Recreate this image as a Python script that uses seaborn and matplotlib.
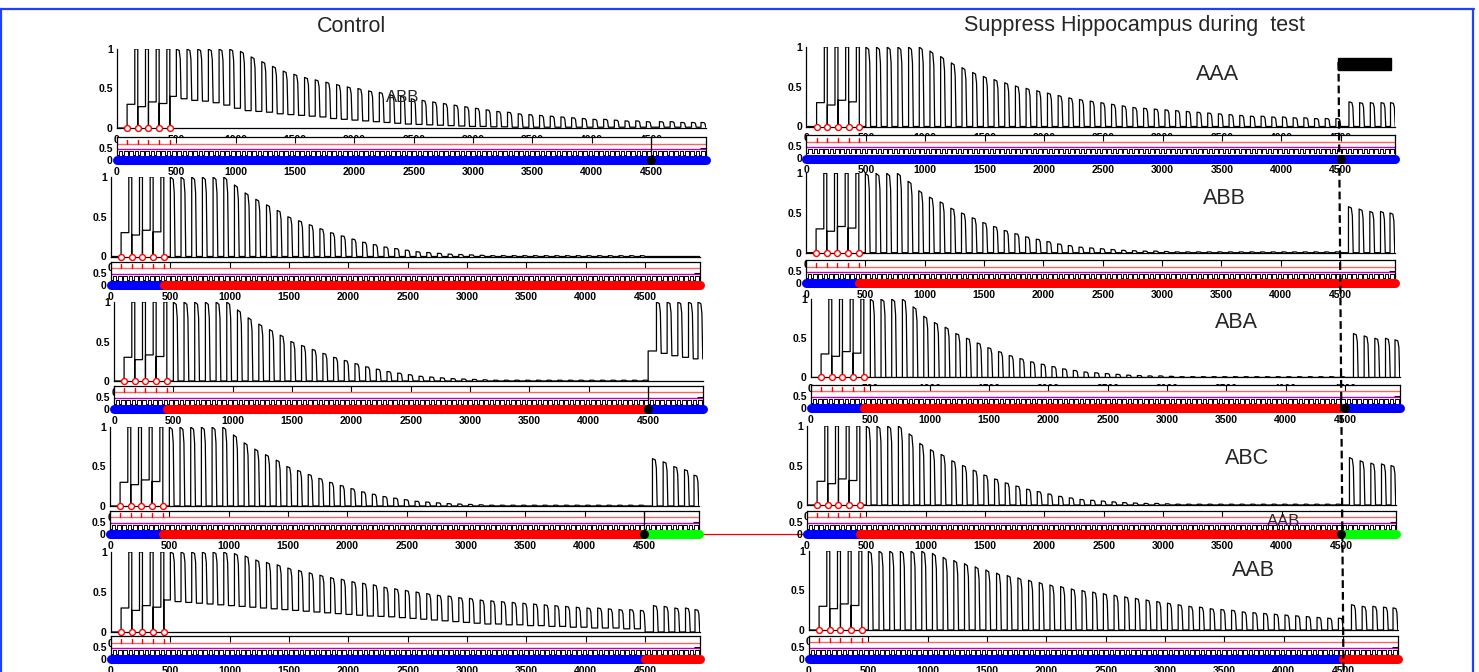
import numpy as np
import pandas as pd
import matplotlib
matplotlib.use("Agg")
import matplotlib.pyplot as plt
import seaborn as sns
from matplotlib.patches import Rectangle
from matplotlib.lines import Line2D

sns.set_style("white", {"axes.edgecolor": "black", "xtick.color": "black", "ytick.color": "black"})
plt.rcParams["font.family"] = ["Liberation Sans", "DejaVu Sans"]

W, H = 1479, 672
XMAX = 4960

# ---------------- data ----------------
x_ticks = [0, 500, 1000, 1500, 2000, 2500, 3000, 3500, 4000, 4500]
shock_times = [85, 175, 265, 355, 445]
acq_cs_onsets = [150, 240, 330, 420]
acq_cs_peaks = [1.0, 1.0, 1.0, 1.0]
acq_iti_levels = [0.30, 0.27, 0.33, 0.31]
ext_cs_onsets = [500, 590, 680, 770, 860, 950, 1040, 1130, 1220, 1310, 1400, 1490, 1580, 1670,
                 1760, 1850, 1940, 2030, 2120, 2210, 2300, 2390, 2480, 2570, 2660, 2750, 2840,
                 2930, 3020, 3110, 3200, 3290, 3380, 3470, 3560, 3650, 3740, 3830, 3920, 4010,
                 4100, 4190, 4280, 4370, 4460]
test_start = 4500
test_cs_onsets = [4570, 4660, 4750, 4840, 4920]
acq_end = 450
# stimulus train shown in the lower strip
train_period = 45
train_low_dur = 14

# Control column
ctrl_AAA_ext_peaks = [1, 1, 1, 1, 1, 1, 0.97, 0.9, 0.84, 0.78, 0.72, 0.68, 0.64, 0.61, 0.58,
                      0.55, 0.52, 0.5, 0.47, 0.45, 0.42, 0.4, 0.37, 0.35, 0.33, 0.31, 0.29, 0.27,
                      0.25, 0.23, 0.21, 0.2, 0.18, 0.17, 0.16, 0.15, 0.14, 0.13, 0.12, 0.11, 0.11,
                      0.1, 0.09, 0.09, 0.08]
ctrl_AAA_ext_base = [0.40, 0.37, 0.35, 0.34, 0.32, 0.29, 0.25, 0.22, 0.21, 0.20, 0.18, 0.17, 0.16,
                     0.15, 0.14, 0.12, 0.11, 0.10, 0.09, 0.08, 0.07, 0.06, 0.05, 0.045, 0.04,
                     0.035, 0.03, 0.025, 0.02, 0.02, 0.015, 0.015, 0.01, 0.01, 0.01, 0.01, 0.01,
                     0.01, 0.01, 0.01, 0.01, 0.01, 0.01, 0.01, 0.01]
ctrl_AAA_test_peaks = [0.08, 0.08, 0.07, 0.07, 0.07]
ctrl_AAA_test_base = [0.01, 0.01, 0.01, 0.01, 0.01]

ctrl_B_ext_peaks = [1, 1, 1, 1, 1, 1, 0.9, 0.8, 0.72, 0.65, 0.58, 0.5, 0.45, 0.4, 0.35, 0.3, 0.26,
                    0.22, 0.18, 0.15, 0.12, 0.1, 0.08, 0.06, 0.05, 0.04, 0.03, 0.025, 0.02, 0.015,
                    0.01, 0.01, 0.01, 0.01, 0.01, 0.01, 0.01, 0.01, 0.01, 0.01, 0.01, 0.01, 0.01,
                    0.01, 0.01]
zero_ext_base = [0.0] * 45
ctrl_ABB_test_peaks = [0.0, 0.0, 0.0, 0.0, 0.0]
ctrl_ABB_test_base = [0.0, 0.0, 0.0, 0.0, 0.0]
ctrl_ABA_test_peaks = [1.0, 1.0, 1.0, 1.0, 1.0]
ctrl_ABA_test_base = [0.38, 0.35, 0.32, 0.30, 0.28]
ctrl_ABC_test_peaks = [0.6, 0.56, 0.5, 0.46, 0.39]
ctrl_ABC_test_base = [0.0, 0.0, 0.0, 0.0, 0.0]

ctrl_AAB_ext_peaks = [1, 1, 1, 1, 1, 1, 0.98, 0.95, 0.9, 0.87, 0.84, 0.8, 0.77, 0.74, 0.71, 0.68,
                      0.66, 0.63, 0.61, 0.59, 0.56, 0.54, 0.52, 0.5, 0.48, 0.46, 0.45, 0.43, 0.42,
                      0.4, 0.39, 0.38, 0.37, 0.36, 0.35, 0.34, 0.33, 0.32, 0.31, 0.3, 0.3, 0.29,
                      0.28, 0.28, 0.27]
ctrl_AAB_ext_base = [0.40, 0.38, 0.37, 0.36, 0.35, 0.34, 0.33, 0.32, 0.31, 0.30, 0.29, 0.28, 0.27,
                     0.26, 0.25, 0.24, 0.23, 0.22, 0.21, 0.20, 0.195, 0.19, 0.18, 0.17, 0.16, 0.15,
                     0.14, 0.13, 0.12, 0.11, 0.1, 0.1, 0.09, 0.09, 0.08, 0.08, 0.07, 0.07, 0.06,
                     0.06, 0.05, 0.05, 0.05, 0.04, 0.04]
ctrl_AAB_test_peaks = [0.33, 0.32, 0.3, 0.3, 0.28]
ctrl_AAB_test_base = [0.0, 0.0, 0.0, 0.0, 0.0]

# Hippocampus-suppressed column
hipp_AAA_ext_peaks = [1, 1, 1, 1, 1, 1, 0.95, 0.88, 0.8, 0.74, 0.68, 0.63, 0.59, 0.55, 0.51, 0.48,
                      0.45, 0.42, 0.39, 0.36, 0.34, 0.32, 0.3, 0.28, 0.26, 0.24, 0.23, 0.22, 0.21,
                      0.2, 0.19, 0.18, 0.17, 0.16, 0.15, 0.14, 0.13, 0.13, 0.12, 0.12, 0.11, 0.11,
                      0.1, 0.1, 0.1]
hipp_AAA_test_peaks = [0.31, 0.3, 0.3, 0.3, 0.3]
hipp_B_ext_peaks = [1, 1, 1, 1, 0.9, 0.78, 0.7, 0.64, 0.56, 0.5, 0.44, 0.38, 0.33, 0.28, 0.24,
                    0.2, 0.17, 0.14, 0.11, 0.09, 0.07, 0.06, 0.05, 0.04, 0.03, 0.025, 0.02, 0.02,
                    0.015, 0.01, 0.01, 0.01, 0.01, 0.01, 0.01, 0.01, 0.01, 0.01, 0.01, 0.01, 0.01,
                    0.01, 0.01, 0.01, 0.01]
hipp_ABB_test_peaks = [0.58, 0.55, 0.52, 0.52, 0.5]
hipp_ABA_test_peaks = [0.56, 0.53, 0.5, 0.5, 0.48]
hipp_ABC_test_peaks = [0.6, 0.56, 0.53, 0.52, 0.5]
hipp_AAB_ext_peaks = [1, 1, 1, 1, 1, 1, 0.97, 0.92, 0.88, 0.84, 0.8, 0.76, 0.72, 0.69, 0.66, 0.63,
                      0.6, 0.57, 0.55, 0.52, 0.5, 0.48, 0.46, 0.44, 0.42, 0.4, 0.38, 0.36, 0.34,
                      0.32, 0.3, 0.29, 0.27, 0.26, 0.25, 0.23, 0.22, 0.21, 0.2, 0.19, 0.18, 0.17,
                      0.16, 0.15, 0.15]
hipp_AAB_test_peaks = [0.32, 0.3, 0.3, 0.29, 0.28]
zero_test_base = [0.0, 0.0, 0.0, 0.0, 0.0]

# small-axis reference lines
red_level = 0.69
magenta_level = 0.46
square_low, square_high = 0.22, 0.39

ctx_colors = {"A": "#0000ff", "B": "#ff0000", "C": "#00ff00"}

# ---------------- layout (pixels) ----------------
PXU = 0.1187  # px per time unit
panels = [
    dict(x0=117, y1=49, y0=128, z=160.3, ctx="AAA", ep=ctrl_AAA_ext_peaks, eb=ctrl_AAA_ext_base,
         tp=ctrl_AAA_test_peaks, tb=ctrl_AAA_test_base, dot=True, vline=True),
    dict(x0=111, y1=177, y0=256.5, z=285, ctx="ABB", ep=ctrl_B_ext_peaks, eb=zero_ext_base,
         tp=ctrl_ABB_test_peaks, tb=ctrl_ABB_test_base, dot=False, vline=False),
    dict(x0=114, y1=302, y0=381, z=409, ctx="ABA", ep=ctrl_B_ext_peaks, eb=zero_ext_base,
         tp=ctrl_ABA_test_peaks, tb=ctrl_ABA_test_base, dot=True, vline=True),
    dict(x0=110, y1=427, y0=506, z=534, ctx="ABC", ep=ctrl_B_ext_peaks, eb=zero_ext_base,
         tp=ctrl_ABC_test_peaks, tb=ctrl_ABC_test_base, dot=True, vline=True),
    dict(x0=111, y1=552, y0=632, z=659.3, ctx="AAB", ep=ctrl_AAB_ext_peaks, eb=ctrl_AAB_ext_base,
         tp=ctrl_AAB_test_peaks, tb=ctrl_AAB_test_base, dot=False, vline=False),
    dict(x0=806.5, y1=47, y0=126.5, z=158.5, ctx="AAA", ep=hipp_AAA_ext_peaks, eb=zero_ext_base,
         tp=hipp_AAA_test_peaks, tb=zero_test_base, dot=True, vline=False),
    dict(x0=806, y1=173.3, y0=252.7, z=283.3, ctx="ABB", ep=hipp_B_ext_peaks, eb=zero_ext_base,
         tp=hipp_ABB_test_peaks, tb=zero_test_base, dot=False, vline=False),
    dict(x0=811, y1=299, y0=377.5, z=408, ctx="ABA", ep=hipp_B_ext_peaks, eb=zero_ext_base,
         tp=hipp_ABA_test_peaks, tb=zero_test_base, dot=True, vline=False),
    dict(x0=807, y1=426, y0=505, z=534, ctx="ABC", ep=hipp_B_ext_peaks, eb=zero_ext_base,
         tp=hipp_ABC_test_peaks, tb=zero_test_base, dot=True, vline=False),
    dict(x0=809, y1=551, y0=630, z=659, ctx="AAB", ep=hipp_AAB_ext_peaks, eb=zero_ext_base,
         tp=hipp_AAB_test_peaks, tb=zero_test_base, dot=False, vline=False),
]

SMALL_LO, SMALL_HI = -0.05, 0.97
SMALL_PX = 24.0
CS_DUR = 40
TICK_FONT = dict(labelsize=7.5)


def rect(x0, x1, ytop, ybot):
    return [x0 / W, 1 - ybot / H, (x1 - x0) / W, (ybot - ytop) / H]


def pulse(xs, ys, c, b, p, nb):
    xs += [c, c, c + 0.6 * CS_DUR, c + 0.82 * CS_DUR, c + CS_DUR]
    ys += [b, p, p - 0.03 * (p - nb), p - 0.2 * (p - nb), nb]


def build_trace(ep, eb, tp, tb):
    xs, ys = [0.0], [0.0]
    for i, s in enumerate(shock_times):
        xs += [s, s]
        lvl = acq_iti_levels[i] if i < len(acq_cs_onsets) else eb[0]
        ys += [0.0, lvl]
        if i < len(acq_cs_onsets):
            c = acq_cs_onsets[i]
            xs += [c, c, shock_times[i + 1]]
            ys += [lvl, acq_cs_peaks[i], acq_cs_peaks[i]]
    n = len(ext_cs_onsets)
    for j, c in enumerate(ext_cs_onsets):
        nb = eb[j + 1] if j + 1 < n else eb[-1]
        pulse(xs, ys, c, eb[j], ep[j], nb)
    xs += [test_start, test_start]
    ys += [eb[-1], tb[0]]
    for k, c in enumerate(test_cs_onsets):
        nb = tb[k + 1] if k + 1 < len(tb) else tb[-1]
        pulse(xs, ys, c, tb[k], tp[k], nb)
    return pd.DataFrame({"t": xs, "freezing": ys})


def bold_ticks(ax):
    for lab in ax.get_xticklabels() + ax.get_yticklabels():
        lab.set_fontweight("bold")


fig = plt.figure(figsize=(W / 100, H / 100), dpi=100)

train_starts = np.arange(0, XMAX, train_period)

for P in panels:
    x0 = P["x0"]
    x1 = x0 + XMAX * PXU
    # main axes
    ax = fig.add_axes(rect(x0, x1, P["y1"], P["y0"]))
    ax.set_zorder(1)
    ax.patch.set_alpha(0)
    df = build_trace(P["ep"], P["eb"], P["tp"], P["tb"])
    sns.lineplot(data=df, x="t", y="freezing", estimator=None, sort=False, color="black",
                 linewidth=0.9, ax=ax)
    sns.scatterplot(x=shock_times, y=[0.0] * len(shock_times), marker="o", s=18,
                    facecolor="white", edgecolor="red", linewidth=1.0, ax=ax, zorder=5,
                    clip_on=False)
    ax.set_xlim(0, XMAX)
    ax.set_ylim(0, 1)
    ax.set_yticks([0, 0.5, 1])
    ax.set_yticklabels(["0", "0.5", "1"])
    ax.set_xticks(x_ticks)
    ax.set_xticklabels([str(v) for v in x_ticks])
    ax.tick_params(direction="in", length=3, width=0.8, pad=3, **TICK_FONT)
    ax.tick_params(axis="x", pad=5)
    for s in ["top", "right"]:
        ax.spines[s].set_visible(False)
    for s in ["left", "bottom"]:
        ax.spines[s].set_linewidth(0.9)
    ax.set_xlabel("")
    ax.set_ylabel("")
    bold_ticks(ax)

    # small (stimulus / context) axes
    z = P["z"]
    top = z - SMALL_HI * SMALL_PX
    bot = z - SMALL_LO * SMALL_PX
    sa = fig.add_axes(rect(x0, x1, top, bot))
    sa.set_zorder(2)
    sa.set_facecolor("white")
    sa.set_xlim(0, XMAX)
    sa.set_ylim(SMALL_LO, SMALL_HI)
    sa.axhline(red_level, color="#ff6060", lw=1.0)
    sa.axhline(magenta_level, color="#c000c0", lw=1.0)
    sq_x, sq_y = [], []
    for e in train_starts:
        sq_x += [e, e, e + train_low_dur, e + train_low_dur]
        sq_y += [square_high, square_low, square_low, square_high]
    sa.plot(sq_x, sq_y, color="black", lw=0.7)
    for s in shock_times:
        sa.plot([s, s], [red_level, 0.86], color="red", lw=1.0)
    segs = [(0, acq_end, P["ctx"][0]), (acq_end, test_start, P["ctx"][1]),
            (test_start, XMAX, P["ctx"][2])]
    for a, b, cc in segs:
        sa.plot([a, b], [0, 0], color=ctx_colors[cc], lw=6.5, solid_capstyle="round",
                clip_on=False, zorder=4)
    if P["vline"]:
        sa.plot([test_start, test_start], [0, SMALL_HI], color="black", lw=0.9, zorder=5)
    if P["dot"]:
        sa.plot([test_start], [0], "o", color="black", ms=5.5, clip_on=False, zorder=6)
    sa.set_xticks(x_ticks)
    sa.set_xticklabels([str(v) for v in x_ticks])
    sa.set_yticks([0, 0.5])
    sa.set_yticklabels(["0", "0.5"])
    sa.tick_params(direction="in", length=4, width=0.8, top=True, right=True, pad=3,
                   **TICK_FONT)
    sa.tick_params(axis="x", pad=4)
    for s in sa.spines.values():
        s.set_linewidth(0.9)
    bold_ticks(sa)

# figure-level annotations
fig.text(352 / W, 1 - 26 / H, "Control", ha="center", va="center", fontsize=15.5)
fig.text(1134 / W, 1 - 26 / H, "Suppress Hippocampus during  test", ha="center", va="center",
         fontsize=15.5)
fig.text(403 / W, 1 - 97 / H, "ABB", ha="center", va="center", fontsize=12)
for label, (lx, ly, fs) in zip(["AAA", "ABB", "ABA", "ABC", "AAB", "AAB"],
                               [(1218, 75, 15.5), (1224, 198, 15.5), (1236, 323, 15.5),
                                (1247, 459, 15.5), (1284, 522, 12), (1253, 570, 15.5)]):
    t = fig.text(lx / W, 1 - ly / H, label, ha="center", va="center", fontsize=fs)
    t.set_zorder(10)

# red link line between ABC panels
fig.add_artist(Line2D([645 / W, 807 / W], [1 - 534 / H, 1 - 534 / H], color="red", lw=0.9,
                      zorder=0.5))
# hippocampus suppression marker
fig.add_artist(Rectangle((1338 / W, 1 - 70 / H), 53 / W, 12 / H, transform=fig.transFigure,
                         color="black", zorder=20))
fig.add_artist(Line2D([1338.5 / W, 1343.5 / W], [1 - 62 / H, 0], color="black", lw=1.6,
                      ls=(0, (3.5, 1.8)), zorder=20))
# blue frame
for xs_, ys_ in [([0, 1474], [9, 9]), ([1473, 1473], [9, 672]), ([1.0, 1.0], [9, 672])]:
    fig.add_artist(Line2D([v / W for v in xs_], [1 - v / H for v in ys_], color="#2040ff",
                          lw=1.6, zorder=30))

fig.savefig("out.png", dpi=100)
